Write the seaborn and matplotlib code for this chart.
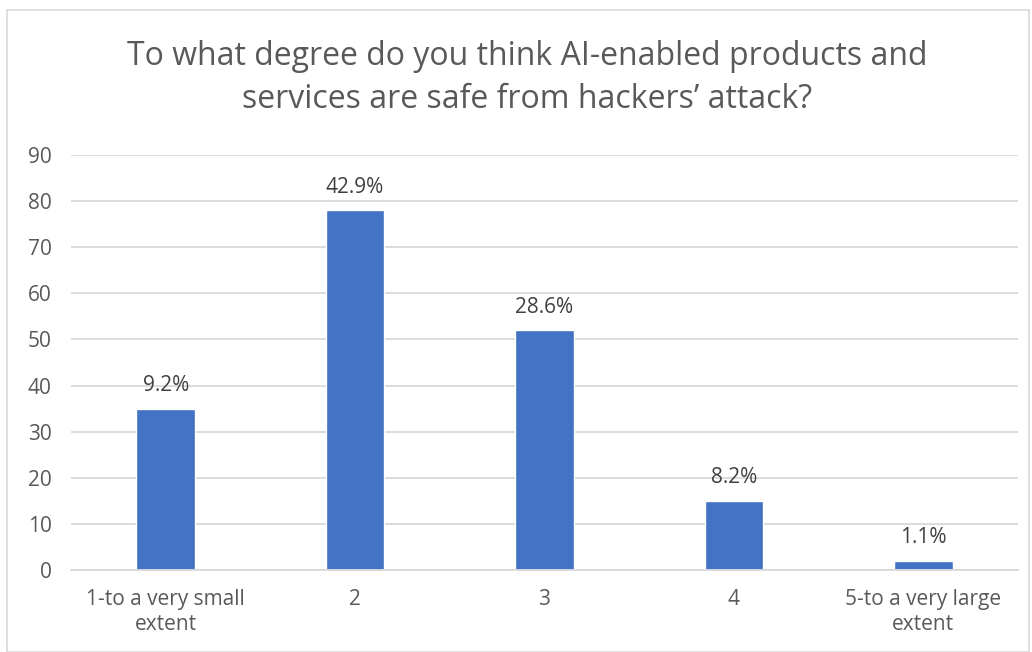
import matplotlib
matplotlib.use("Agg")
import matplotlib.pyplot as plt
import seaborn as sns
import pandas as pd
from matplotlib.patches import Rectangle

categories = ["1-to a very small\nextent", "2", "3", "4", "5-to a very large\nextent"]
counts = [35, 78, 52, 15, 2]
pct_labels = ["9.2%", "42.9%", "28.6%", "8.2%", "1.1%"]
yticks = [0, 10, 20, 30, 40, 50, 60, 70, 80, 90]
title = "To what degree do you think AI-enabled products and\nservices are safe from hackers\u2019 attack?"

sns.set_style("white")
plt.rcParams['font.family'] = ['Open Sans', 'DejaVu Sans']

fig = plt.figure(figsize=(10.32, 6.52), dpi=100)
ax = fig.add_axes([0.0688, 0.1258, 0.9176, 0.6365])

df = pd.DataFrame({"cat": categories, "n": counts})
sns.barplot(data=df, x="cat", y="n", color="#4472C4", width=0.31, ax=ax, saturation=1)

ax.set_ylim(0, 90)
ax.set_yticks(yticks)
ax.yaxis.grid(True, color="#d9d9d9", linewidth=1.3)
ax.set_axisbelow(True)
for s in ["top", "right", "left"]:
    ax.spines[s].set_visible(False)
ax.spines["bottom"].set_color("#d9d9d9")
ax.spines["bottom"].set_linewidth(1.3)
ax.set_xlabel("")
ax.set_ylabel("")
ax.tick_params(axis="both", length=0, labelsize=15, labelcolor="#595959")
ax.tick_params(axis="y", pad=14)
ax.tick_params(axis="x", pad=14)
for t in ax.get_xticklabels():
    t.set_linespacing(1.25)

ax.bar_label(ax.containers[0], labels=pct_labels, padding=9, fontsize=15, color="#404040")

fig.text(0.5105, 0.881, title, ha="center", va="center", fontsize=23,
         color="#595959", linespacing=1.4)

fig.patches.append(Rectangle((0.007, 0.0), 0.99, 0.985, transform=fig.transFigure,
                             fill=False, edgecolor="#d9d9d9", linewidth=1.2))

fig.savefig("out.png", dpi=100)
